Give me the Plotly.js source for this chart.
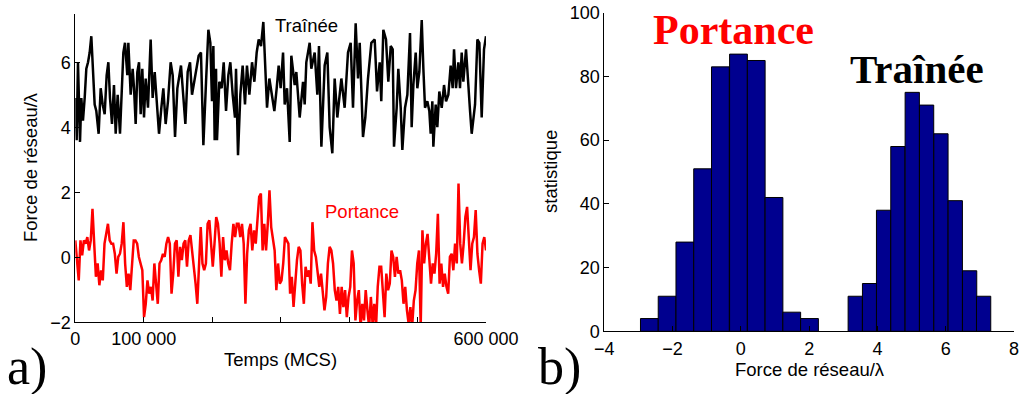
<!DOCTYPE html>
<html>
<head>
<meta charset="utf-8">
<script src="https://cdn.plot.ly/plotly-3.0.1.min.js"></script>
<style>html,body{margin:0;padding:0;background:#fff;}#chart{width:1021px;height:394px;}</style>
</head>
<body>
<div id="chart"></div>
<script>
// ---- Panel a) : time series (time in MCS) ----
const tTrainee = [0,2000,3900,6900,8800,11200,13700,16100,18600,21000,23400,25900,28300,30700,34100,37100,40000,42900,45800,48300,50700,53600,56500,59000,61900,65300,67700,70200,72600,76000,77500,80900,83800,85800,88200,90600,93100,95500,97900,100400,102800,106200,110100,113000,116000,118900,122300,125700,128600,132000,135400,139300,142300,145700,149100,154400,157800,160800,164200,167600,170500,173900,177300,180200,183600,187100,191000,194400,197300,199700,201700,203600,205600,207000,210400,213800,216800,220200,223600,226500,229900,233300,234800,237700,241100,244500,247900,250800,254300,258200,261600,265000,267900,271300,274700,277600,280100,283500,287400,290800,294200,297100,300000,303500,305900,309300,313200,315600,320500,322900,327800,332700,335100,337500,342400,344800,349700,353600,356000,359500,364300,368200,371600,375500,378900,382800,386200,388700,393500,398400,402300,405700,409600,413000,415500,420300,423700,427600,432500,437400,440800,444700,447000,450000,453900,457300,460800,463700,465600,469500,471900,475400,477800,481700,485100,489000,491400,493900,497300,499700,502600,506100,508500,510900,514300,517200,519200,521600,523100,526500,528900,531800,535300,538700,541600,545000,548400,551300,553300,556200,559600,562000,564500,566900,570800,574200,576700,579100,584000,587400,590300,593700,597100,600000];
const trainee = [4.9,3.6,6.0,3.55,4.9,4.2,4.9,5.8,6.0,6.3,6.8,5.7,4.7,4.5,3.8,5.2,4.7,4.4,5.6,6.0,4.9,4.1,5.3,3.8,5.0,3.8,5.0,6.3,6.6,5.6,6.6,5.0,5.8,5.2,4.1,5.7,6.0,4.4,5.8,4.3,5.5,4.6,6.7,4.9,5.7,4.8,3.8,4.6,5.2,4.1,4.8,6.0,5.6,3.7,5.2,5.9,4.9,4.1,5.7,6.0,5.0,5.4,5.9,6.2,6.3,3.45,5.4,7.0,6.6,4.8,6.5,3.6,5.8,3.6,5.4,5.2,6.0,4.5,5.6,6.0,5.0,4.3,5.8,3.14,5.0,5.9,4.7,5.9,5.0,6.0,5.4,6.3,6.7,6.5,7.24,5.9,4.6,5.5,5.0,4.5,5.2,5.9,5.2,6.3,4.7,5.2,3.55,6.2,5.3,5.7,4.3,5.4,4.7,6.0,6.6,5.8,6.3,5.0,6.5,3.4,5.9,6.3,4.0,3.2,5.5,4.3,5.0,5.5,4.6,6.3,6.6,4.6,7.2,5.5,6.6,3.7,4.3,5.5,6.6,6.7,5.1,6.0,4.8,7.0,6.7,5.4,6.5,6.4,3.4,4.6,5.8,4.6,3.3,4.6,5.0,6.9,4.0,5.3,6.3,5.2,5.7,7.3,5.8,4.6,4.8,4.5,3.8,4.8,3.4,4.7,4.0,5.1,4.6,5.3,4.8,5.0,5.9,5.2,6.4,5.2,6.0,5.2,6.3,5.4,6.4,5.1,4.5,3.8,4.7,6.7,6.6,4.3,6.4,6.8];

// Portance sampled uniformly over 0 .. 600 000 MCS
const tEnd = 600000;
const portance = [0.52,0.01,-0.71,0.52,0.06,0.52,0.42,0.62,0.21,0.52,1.49,0.42,-0.6,-0.19,-0.86,-0.4,-0.71,0.42,0.72,1.03,0.52,0.42,0.42,0.11,-0.5,0.01,0.11,0.42,1.08,-0.19,-0.91,-0.5,-1.01,-0.29,0.52,0.52,0.42,0.01,-0.19,-0.4,-1.84,-1.43,-0.71,-1.12,-0.91,-1.33,-0.19,-0.91,-1.43,-0.19,-0.09,0.11,0.01,0.42,0.62,0.42,-1.12,-0.5,0.42,0.52,
 -0.6,0.32,-0.09,0.42,0.52,-0.29,0.52,0.68,0.21,-0.19,-0.81,-1.43,-0.29,0.93,-0.19,-0.4,-0.19,1.03,1.14,0.42,-0.29,0.42,1.24,1.03,0.42,-0.6,0.62,-0.09,0.21,-0.19,-0.4,0.42,1.03,0.62,1.03,1.03,0.62,1.03,0.42,-1.43,0.11,0.83,1.03,0.21,0.83,0.42,1.03,1.86,1.96,0.21,1.03,0.21,1.03,2.06,0.93,0.62,0.21,-1.01,
 -0.19,-0.81,-0.71,-0.19,0.62,0.52,0.42,-1.12,-0.6,-1.53,-0.71,-0.09,0.32,0.21,-0.81,-1.43,-0.29,-0.6,-0.4,-0.81,1.08,0.21,0.01,-0.5,-0.91,-0.5,-1.01,-1.63,-1.22,-0.19,0.32,0.21,-0.19,-1.01,-1.33,-0.91,-1.74,-0.91,-1.53,-1.01,-1.84,-1.22,-0.91,0.21,-0.19,-1.94,-1.33,-1.01,-2.15,-1.43,-1.94,-1.01,-1.63,-2.15,-1.22,-2.05,-1.43,-2.15,-0.91,-0.29,
 -0.29,-1.22,-1.84,-0.5,-1.01,-0.81,0.21,0.01,-0.6,0.01,-0.5,-0.4,-0.71,-1.43,-0.91,-1.63,-2.05,-1.53,-2.15,-1.33,-1.01,-0.19,0.21,-2.15,0.83,-0.19,0.42,0.72,-0.19,-0.81,-0.19,-0.5,0.11,1.34,-0.81,-0.19,-0.91,-0.5,-0.91,-1.12,0.01,0.11,-0.4,0.42,-0.19,2.27,0.42,-0.19,0.42,1.24,1.55,0.42,-0.4,0.42,0.62,1.45,0.11,-0.4,-0.81,0.42,0.62,0.21];
const tPortance = portance.map((v, i) => i * tEnd / (portance.length - 1));

const timeTicks = [0,100000,200000,300000,400000,500000,600000];
const timeTickLabels = ['0','100 000','','','','','600 000'];

// ---- Panel b) : histograms ----
const portanceBins   = [-2.68,-2.16,-1.64,-1.12,-0.60,-0.07,0.45,0.97,1.49,2.01];
const portanceCounts = [4,11,28,51,83,87,85,42,6,4];
const portanceWidth  = 0.521;
const traineeBins    = [3.35,3.77,4.18,4.60,5.02,5.44,5.86,6.28,6.70,7.11];
const traineeCounts  = [11,15,38,58,75,71,62,41,19,11];
const traineeWidth   = 0.418;

const W = 1021, H = 394;
const px = x => x / W, py = y => 1 - y / H;

const axisBase = {
  showline:true, linecolor:'#000', linewidth:1, mirror:false,
  ticks:'inside', ticklen:5, tickcolor:'#000', tickwidth:1,
  showgrid:false, zeroline:false, fixedrange:true,
  tickfont:{family:'Liberation Sans, Arial, sans-serif', size:18, color:'#000'}
};

const traces = [
  {x:tTrainee, y:trainee, type:'scatter', mode:'lines', line:{color:'#000', width:2.5}, xaxis:'x', yaxis:'y', hoverinfo:'skip'},
  {x:tPortance, y:portance, type:'scatter', mode:'lines', line:{color:'#ff0000', width:2.5}, xaxis:'x', yaxis:'y', hoverinfo:'skip'},
  {x:portanceBins, y:portanceCounts, width:portanceBins.map(()=>portanceWidth), type:'bar', marker:{color:'#00008f', line:{color:'#000', width:1}}, xaxis:'x2', yaxis:'y2', hoverinfo:'skip'},
  {x:traineeBins, y:traineeCounts, width:traineeBins.map(()=>traineeWidth), type:'bar', marker:{color:'#00008f', line:{color:'#000', width:1}}, xaxis:'x2', yaxis:'y2', hoverinfo:'skip'}
];

const sans = {family:'Liberation Sans, Arial, sans-serif', size:18.5, color:'#000'};
const serif = 'Liberation Serif, Times New Roman, serif';
const ann = (text, x, y, font, extra) => Object.assign({text, x:px(x), y:py(y), xref:'paper', yref:'paper', showarrow:false, xanchor:'center', yanchor:'middle', borderpad:0, font}, extra||{});

const layout = {
  width:W, height:H, margin:{l:0,r:0,t:0,b:0},
  paper_bgcolor:'#fff', plot_bgcolor:'#fff', showlegend:false, barmode:'overlay', bargap:0,
  font:sans,
  xaxis:Object.assign({}, axisBase, {domain:[px(75.3), px(486)], range:[0,600000], tickvals:timeTicks, ticktext:timeTickLabels, anchor:'y'}),
  yaxis:Object.assign({}, axisBase, {domain:[py(322.3), py(13.5)], range:[-2,7.5], tickvals:[-2,0,2,4,6], anchor:'x'}),
  xaxis2:Object.assign({}, axisBase, {domain:[px(604.3), px(1014)], range:[-4,8], tickvals:[-4,-2,0,2,4,6,8], anchor:'y2', ticklabelstandoff:1}),
  yaxis2:Object.assign({}, axisBase, {domain:[py(331.3), py(12.7)], range:[0,100], tickvals:[0,20,40,60,80,100], anchor:'x2'}),
  annotations:[
    ann('Temps (MCS)', 280, 359, sans),
    ann('Force de réseau/λ', 30, 167, sans, {textangle:-90}),
    ann('Traînée', 306, 25, sans),
    ann('Portance', 362, 211, Object.assign({}, sans, {color:'#ff0000'})),
    ann('a)', 27, 367, {family:serif, size:52, color:'#000'}),
    ann('Force de réseau/λ', 810, 369, sans),
    ann('statistique', 550, 172, sans, {textangle:-90}),
    ann('<b>Portance</b>', 733, 30, {family:serif, size:42, color:'#ff0000'}),
    ann('<b>Traînée</b>', 917, 69, {family:serif, size:41, color:'#000'}),
    ann('b)', 559, 367, {family:serif, size:52, color:'#000'})
  ]
};

Plotly.newPlot('chart', traces, layout, {staticPlot:true, displayModeBar:false});
</script>
</body>
</html>
